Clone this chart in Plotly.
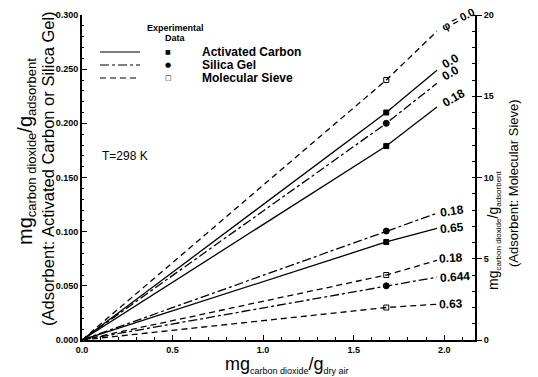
import plotly.graph_objects as go

# x positions (mg CO2 / g dry air): origin, experimental point, line end
x_pts = [0.0, 1.68, 1.96]

# Activated carbon (left axis)
ac_phi00 = [0.0, 0.210, 0.249]
ac_phi18 = [0.0, 0.179, 0.215]
ac_phi65 = [0.0, 0.0905, 0.103]
# Silica gel (left axis)
sg_phi00 = [0.0, 0.200, 0.237]
sg_phi18 = [0.0, 0.1006, 0.117]
sg_phi644 = [0.0, 0.050, 0.058]
# Molecular sieve (right axis)
ms_phi00 = [0.0, 16.0, 19.0]
ms_phi18 = [0.0, 4.0, 4.9]
ms_phi63 = [0.0, 2.0, 2.2]

FONT = "Liberation Sans, Arial, sans-serif"

series = [
    # (values, axis, dash, marker symbol, label, label angle, label shift px, size)
    (ac_phi00, "y", "solid", "square", "0.0", -30, -4, 12),
    (ac_phi18, "y", "solid", "square", "0.18", -30, -6, 12),
    (ac_phi65, "y", "solid", "square", "0.65", -6, 0, 12),
    (sg_phi00, "y", "dashdot", "circle", "0.0", -30, -3, 12),
    (sg_phi18, "y", "dashdot", "circle", "0.18", -8, 2, 12),
    (sg_phi644, "y", "dashdot", "circle", "0.644", -4, 0, 12),
    (ms_phi00, "y2", "6px,4px", "square-open", "\u03c6 = 0.0", -28, -4, 11),
    (ms_phi18, "y2", "6px,4px", "square-open", "0.18", -3, 2, 12),
    (ms_phi63, "y2", "6px,4px", "square-open", "0.63", -2, 0, 12),
]

fig = go.Figure()
annotations = []
for vals, ax, dash, sym, lab, ang, dy, fs in series:
    fig.add_trace(go.Scatter(
        x=x_pts, y=vals, yaxis=ax, mode="lines",
        line=dict(color="black", width=1.3, dash=dash),
        showlegend=False, hoverinfo="skip"))
    fig.add_trace(go.Scatter(
        x=[x_pts[1]], y=[vals[1]], yaxis=ax, mode="markers",
        marker=dict(symbol=sym, color="black", size=6 if sym == "circle" else 5,
                    line=dict(color="black", width=1)),
        showlegend=False, hoverinfo="skip"))
    annotations.append(dict(
        x=x_pts[2], y=vals[2], xref="x", yref=ax, text="<b>%s</b>" % lab,
        showarrow=False, xanchor="left", yanchor="bottom" if ang < -20 else "middle",
        xshift=0, yshift=dy,
        textangle=ang, font=dict(family=FONT, size=fs, color="black")))

W, H = 538, 377
L, R, T, B = 82, 63, 15, 37
pw, ph = W - L - R, H - T - B

def pxy(px, py):
    return (px - L) / pw, (H - B - py) / ph

def sub(t, size):
    return '<sub><span style="font-size:%dpx">%s</span></sub>' % (size, t)

# axis titles (pixel centre, text, size)
titles = [
    (26, 152, "mg" + sub("carbon dioxide", 13) + "/g" + sub("adsorbent", 13), 20),
    (48, 169, "(Adsorbent: Activated Carbon or Silica Gel)", 16.5),
    (494, 230, "mg" + sub("carbon dioxide", 8) + "/g" + sub("adsorbent", 8), 14),
    (513, 183, "(Adsorbent: Molecular Sieve)", 13),
]
for px, py, txt, sz in titles:
    xx, yy = pxy(px, py)
    annotations.append(dict(x=xx, y=yy, xref="paper", yref="paper", text=txt,
                            showarrow=False, textangle=-90, xanchor="center", yanchor="middle",
                            font=dict(family=FONT, size=sz, color="black")))

# x title
xx, yy = pxy(287, 352)
annotations.append(dict(x=xx, y=yy, xref="paper", yref="paper", showarrow=False,
                        xanchor="center", yanchor="top",
                        text="mg" + sub("carbon dioxide", 9) + "/g" + sub("dry air", 9),
                        font=dict(family=FONT, size=18, color="black")))
# T label
xx, yy = pxy(100, 156)
annotations.append(dict(x=xx, y=yy, xref="paper", yref="paper", showarrow=False, xanchor="left",
                        text="T=298 K", font=dict(family=FONT, size=12, color="black")))
# legend header
for txt, py in [("Experimental", 28), ("Data", 38)]:
    xx, yy = pxy(175, py)
    annotations.append(dict(x=xx, y=yy, xref="paper", yref="paper", showarrow=False,
                            xanchor="center", yanchor="middle",
                            text="<b>%s</b>" % txt, font=dict(family=FONT, size=9, color="black")))
legend_items = [("Activated Carbon", "solid", "\u25a0", 52, 6),
                ("Silica Gel", "dashdot", "\u25cf", 65, 7),
                ("Molecular Sieve", "6px,4px", "\u25a1", 78, 7)]
shapes = []
for name, dash, sym, py, ssz in legend_items:
    x0, y0 = pxy(100, py)
    x1, _ = pxy(140, py)
    shapes.append(dict(type="line", xref="paper", yref="paper", x0=x0, x1=x1, y0=y0, y1=y0,
                       line=dict(color="black", width=1.2, dash=dash)))
    xx, _ = pxy(168, py)
    annotations.append(dict(x=xx, y=y0, xref="paper", yref="paper", showarrow=False,
                            xanchor="center", yanchor="middle",
                            text=sym, font=dict(family="DejaVu Sans", size=ssz, color="black")))
    xx, _ = pxy(200, py)
    annotations.append(dict(x=xx, y=y0, xref="paper", yref="paper", showarrow=False,
                            xanchor="left", yanchor="middle",
                            text="<b>%s</b>" % name, font=dict(family=FONT, size=12, color="black")))

tickfont = dict(family=FONT, size=9, color="black", weight="bold")
fig.update_layout(
    width=W, height=H, margin=dict(l=L, r=R, t=T, b=B),
    paper_bgcolor="white", plot_bgcolor="white",
    font=dict(family=FONT, color="black"),
    annotations=annotations, shapes=shapes,
    xaxis=dict(range=[0, 2.17], tickvals=[0, 0.5, 1.0, 1.5, 2.0], tickformat=".1f",
               ticks="inside", ticklen=5, tickwidth=1.2, tickcolor="black",
               minor=dict(dtick=0.1, ticks="inside", ticklen=3, tickcolor="black"),
               showline=True, linewidth=2, linecolor="black", showgrid=False, zeroline=False,
               tickfont=tickfont, automargin=False),
    yaxis=dict(range=[0, 0.3], dtick=0.05, tickformat=".3f",
               ticks="inside", ticklen=5, tickwidth=1.2, tickcolor="black",
               minor=dict(dtick=0.01, ticks="inside", ticklen=2, tickcolor="black"),
               showline=True, linewidth=2, linecolor="black", showgrid=False, zeroline=False,
               tickfont=tickfont, automargin=False),
    yaxis2=dict(range=[0, 20], dtick=5, overlaying="y", side="right",
                ticks="outside", ticklen=5, tickwidth=1.2, tickcolor="black",
                minor=dict(dtick=1, ticks="inside", ticklen=3, tickcolor="black"),
                showline=True, linewidth=2, linecolor="black", showgrid=False, zeroline=False,
                tickfont=tickfont, automargin=False),
)
fig.write_html("out.html", config={"displayModeBar": False},
               post_script="document.body.style.margin='0';")
